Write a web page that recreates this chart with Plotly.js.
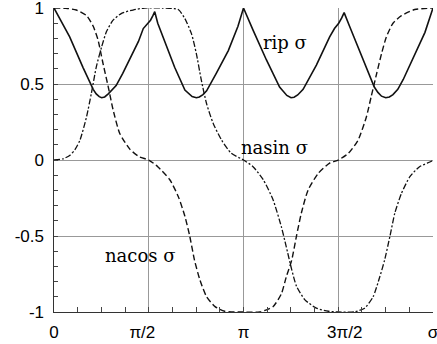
<!DOCTYPE html>
<html><head><meta charset="utf-8">
<script src="https://cdn.plot.ly/plotly-3.0.1.min.js"></script>
<style>html,body{margin:0;padding:0;background:#fff}</style>
</head><body><div id="chart" style="width:437px;height:344px"></div>
<script>
// rip σ (solid)
const ripSigma = [0,0.26,0.48,0.60,0.65,0.70,0.75,0.79,0.84,0.90,0.96,1.03,1.14,1.28,1.40,1.48,1.55,1.60,1.64,1.67,1.72,1.84,2.00,2.17,2.23,2.29,2.36,2.41,2.47,2.53,2.69,2.89,3.05,3.1416,3.30,3.52,3.74,3.80,3.86,3.93,3.98,4.04,4.13,4.35,4.57,4.65,4.72,4.77,4.81,4.90,5.10,5.26,5.31,5.37,5.43,5.50,5.56,5.62,5.70,5.79,5.98,6.15,6.2832];
const ripVal   = [1,0.81,0.61,0.50,0.465,0.435,0.417,0.41,0.415,0.435,0.46,0.49,0.57,0.68,0.78,0.865,0.895,0.92,0.95,0.976,0.90,0.77,0.61,0.46,0.435,0.417,0.41,0.415,0.43,0.455,0.57,0.72,0.88,1,0.855,0.66,0.48,0.45,0.425,0.41,0.413,0.428,0.465,0.625,0.81,0.865,0.90,0.935,0.97,0.88,0.68,0.52,0.48,0.445,0.42,0.41,0.415,0.43,0.465,0.53,0.69,0.84,1];
// nasin σ (dash-dot)
const nasinSigma = [0,0.15,0.26,0.35,0.43,0.54,0.62,0.70,0.79,0.87,0.98,1.12,1.31,1.50,1.80,2.06,2.17,2.28,2.36,2.44,2.53,2.64,2.78,2.94,3.1416,3.30,3.47,3.63,3.77,3.85,3.94,4.02,4.16,4.35,4.55,4.71,4.99,5.15,5.29,5.40,5.48,5.57,5.65,5.76,5.90,6.06,6.25,6.2832];
const nasinVal   = [0,0.008,0.03,0.07,0.13,0.285,0.44,0.61,0.745,0.845,0.92,0.965,0.987,1,1,0.99,0.93,0.83,0.70,0.53,0.37,0.24,0.13,0.044,0,-0.044,-0.13,-0.26,-0.44,-0.57,-0.72,-0.83,-0.92,-0.975,-0.995,-1,-0.998,-0.975,-0.90,-0.77,-0.66,-0.50,-0.35,-0.22,-0.11,-0.044,-0.01,0];
// nacos σ (dashed)
const nacosSigma = [0,0.20,0.37,0.54,0.65,0.73,0.81,0.90,0.98,1.09,1.26,1.42,1.5708,1.72,1.92,2.06,2.17,2.25,2.33,2.42,2.53,2.67,2.83,3.1416,3.41,3.63,3.77,3.85,3.94,4.02,4.10,4.21,4.38,4.57,4.7124,4.88,5.04,5.18,5.26,5.35,5.43,5.51,5.62,5.76,5.98,6.2832];
const nacosVal   = [1,0.998,0.987,0.95,0.88,0.79,0.64,0.48,0.33,0.175,0.07,0.02,0,-0.044,-0.13,-0.24,-0.37,-0.50,-0.66,-0.79,-0.90,-0.965,-0.995,-1,-1,-0.965,-0.88,-0.77,-0.66,-0.50,-0.35,-0.20,-0.088,-0.02,0,0.044,0.13,0.285,0.42,0.57,0.70,0.81,0.90,0.95,0.99,1];

const xTickText = ['0','π/2\u00a0\u00a0\u2009','π','\u2009\u00a0\u00a03π/2','σ'];
const yTickText = ['-1','-0.5','0','0.5','1'];
const curveLabels = ['rip σ','nasin σ','nacos σ'];

const PI = Math.PI;
const xMax = 2*PI + 1e-4, yMax = 1.0002;
const xTickVals = [0, PI/2, PI, 3*PI/2, 2*PI];
const yTickVals = [-1,-0.5,0,0.5,1];
const xGridVals = [PI/2, PI, 3*PI/2];
const yGridVals = [-0.5, 0, 0.5];
const xMinor = Array.from({length:17},(_,i)=>i*PI/8);
const yMinor = Array.from({length:21},(_,i)=>Math.round((-1+i*0.1)*10)/10);

const ink = '#111';
const traces = [
  {x: nasinSigma, y: nasinVal, xaxis:'x', yaxis:'y', mode:'lines', line:{color:ink, width:1.3, dash:'6px,2px,2px,2px', shape:'spline', smoothing:0.6}},
  {x: nacosSigma, y: nacosVal, xaxis:'x', yaxis:'y', mode:'lines', line:{color:ink, width:1.4, dash:'6px,3px', shape:'spline', smoothing:0.6}},
  {x: ripSigma, y: ripVal, xaxis:'x2', yaxis:'y2', mode:'lines', line:{color:ink, width:1.6}}
];

const tickFont = {family:'Liberation Sans, Arial, sans-serif', size:17, color:'#000'};
const labFont = {family:'DejaVu Serif, serif', size:18, color:'#000'};

const layout = {
  width:437, height:344,
  margin:{l:54, r:4, t:8, b:32},
  paper_bgcolor:'#fff', plot_bgcolor:'#fff',
  showlegend:false,
  xaxis:{range:[0,xMax], tickmode:'array', tickvals:xGridVals, showticklabels:false,
    showgrid:true, gridcolor:'#999', gridwidth:1, zeroline:false,
    showline:true, linecolor:'#333', linewidth:1,
    ticks:'inside', ticklen:5, tickcolor:'#444',
    minor:{tickmode:'array', tickvals:xMinor, ticks:'inside', ticklen:5, tickcolor:'#444', showgrid:false}},
  yaxis:{range:[-1,yMax], tickmode:'array', tickvals:yGridVals, showticklabels:false,
    showgrid:true, gridcolor:'#999', gridwidth:1, zeroline:false,
    showline:true, linecolor:'#333', linewidth:1,
    ticks:'inside', ticklen:4, tickcolor:'#444',
    minor:{tickmode:'array', tickvals:yMinor, ticks:'inside', ticklen:4, tickcolor:'#444', showgrid:false}},
  xaxis2:{overlaying:'x', anchor:'y2', side:'bottom', range:[0,xMax], tickmode:'array',
    tickvals:xTickVals, ticktext:xTickText, showgrid:false, zeroline:false, showline:false,
    ticks:'', tickfont:tickFont, ticklabelstandoff:8, ticklabeloverflow:'allow'},
  yaxis2:{overlaying:'y', anchor:'x2', side:'left', range:[-1,yMax], tickmode:'array',
    tickvals:yTickVals, ticktext:yTickText, showgrid:false, zeroline:false, showline:false,
    ticks:'', tickfont:tickFont, ticklabelstandoff:9, ticklabeloverflow:'allow'},
  annotations:[
    {x:3.83, y:0.77, xref:'x', yref:'y', text:curveLabels[0], showarrow:false, font:labFont},
    {x:3.65, y:0.08, xref:'x', yref:'y', text:curveLabels[1], showarrow:false, font:labFont},
    {x:1.43, y:-0.625, xref:'x', yref:'y', text:curveLabels[2], showarrow:false, font:labFont}
  ]
};
Plotly.newPlot('chart', traces, layout, {staticPlot:true, displayModeBar:false});
</script></body></html>
